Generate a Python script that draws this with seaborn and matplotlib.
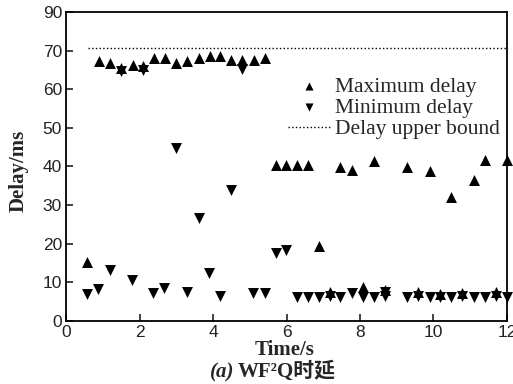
import matplotlib
matplotlib.use("Agg")
import matplotlib.pyplot as plt
import seaborn as sns
import pandas as pd

# values
max_t = [0.58, 0.90, 1.20, 1.49, 1.81, 2.10, 2.40, 2.70, 2.99, 3.29, 3.61, 3.92,
         4.19, 4.50, 4.80, 5.11, 5.42, 5.71, 5.98, 6.29, 6.58, 6.88, 7.18, 7.47,
         7.79, 8.08, 8.38, 8.68, 9.28, 9.59, 9.90, 10.19, 10.49, 10.78, 11.10,
         11.40, 11.70, 12.0]
max_delay = [15.4, 67.4, 66.8, 65.4, 66.2, 65.9, 68.0, 68.0, 66.9, 67.3, 68.1, 68.5,
             68.5, 67.5, 67.5, 67.5, 68.0, 40.3, 40.3, 40.3, 40.3, 19.3, 7.6, 39.9,
             39.2, 8.7, 41.4, 7.9, 39.9, 7.6, 38.8, 7.0, 32.1, 7.2, 36.4,
             41.8, 7.4, 41.8]

min_t = [0.58, 0.88, 1.18, 1.49, 1.78, 2.10, 2.37, 2.67, 2.99, 3.28, 3.61, 3.89,
         4.19, 4.50, 4.80, 5.09, 5.41, 5.71, 5.98, 6.29, 6.58, 6.88, 7.18, 7.47,
         7.79, 8.08, 8.38, 8.68, 8.68, 9.28, 9.59, 9.90, 10.19, 10.49, 10.78,
         11.10, 11.40, 11.70, 12.0]
min_delay = [6.9, 8.2, 13.1, 64.6, 10.5, 65.0, 7.2, 8.6, 44.9, 7.4, 26.6, 12.4,
             6.5, 33.8, 65.2, 7.2, 7.2, 17.7, 18.3, 6.3, 6.3, 6.3, 6.5, 6.3,
             7.2, 6.3, 6.3, 6.6, 7.5, 6.3, 6.6, 6.3, 6.3, 6.3, 6.4,
             6.3, 6.3, 6.5, 6.3]

bound_t = [0.6, 12.0]
bound_delay = [70.7, 70.7]

y_ticks = [0, 10, 20, 30, 40, 50, 60, 70, 80]
y_tick_labels = ["0", "10", "20", "30", "40", "50", "60", "70", "90"]
x_ticks = [0, 2, 4, 6, 8, 10, 12]

sns.set_theme(style="white")
plt.rcParams["font.family"] = ["Liberation Serif", "Noto Sans CJK SC"]

df_max = pd.DataFrame({"t": max_t, "d": max_delay})
df_min = pd.DataFrame({"t": min_t, "d": min_delay})
df_bound = pd.DataFrame({"t": bound_t, "d": bound_delay})

fig, ax = plt.subplots(figsize=(5.13, 3.84), dpi=100)
fig.subplots_adjust(left=0.129, right=0.988, top=0.969, bottom=0.164)

sns.scatterplot(data=df_max, x="t", y="d", marker="^", s=62, color="black",
                edgecolor="black", linewidth=0, ax=ax, label="Maximum delay",
                clip_on=False, zorder=3)
sns.scatterplot(data=df_min, x="t", y="d", marker="v", s=62, color="black",
                edgecolor="black", linewidth=0, ax=ax, label="Minimum delay",
                clip_on=False, zorder=3)
sns.lineplot(data=df_bound, x="t", y="d", color="black", linestyle=":",
             linewidth=1.0, ax=ax, label="Delay upper bound")

ax.set_xlim(0, 12)
ax.set_ylim(0, 80)
ax.set_xticks(x_ticks)
ax.set_yticks(y_ticks)
ax.set_yticklabels(y_tick_labels)
ax.tick_params(direction="in", length=5, width=1.2, labelsize=12.5,
               left=True, bottom=True, pad=3, colors="#222222")
for lab in ax.get_xticklabels() + ax.get_yticklabels():
    lab.set_family("Liberation Sans")

for sp in ax.spines.values():
    sp.set_color("black")
    sp.set_linewidth(1.3)

ax.set_xlabel("")
ax.set_ylabel("")
fig.text(0.036, 0.555, "Delay/ms", rotation=90, ha="center", va="center",
         fontsize=15, fontweight="bold")

leg = ax.legend(loc="upper left", bbox_to_anchor=(0.503, 0.79), frameon=False,
                fontsize=15.5, handlelength=2.0, handletextpad=0.2,
                labelspacing=0.05, borderaxespad=0.0, borderpad=0.0)
for h in leg.legend_handles[:2]:
    h.set_sizes([34])

fig.text(0.555, 0.089, "Time/s", ha="center", va="center",
         fontsize=15, fontweight="bold")
fig.text(0.458, 0.031, "(a)", ha="right", va="center", fontsize=15,
         fontweight="bold", style="italic")
fig.text(0.464, 0.031, "WF²Q时延", ha="left", va="center", fontsize=15,
         fontweight="bold")

fig.savefig("out.png", dpi=100)
